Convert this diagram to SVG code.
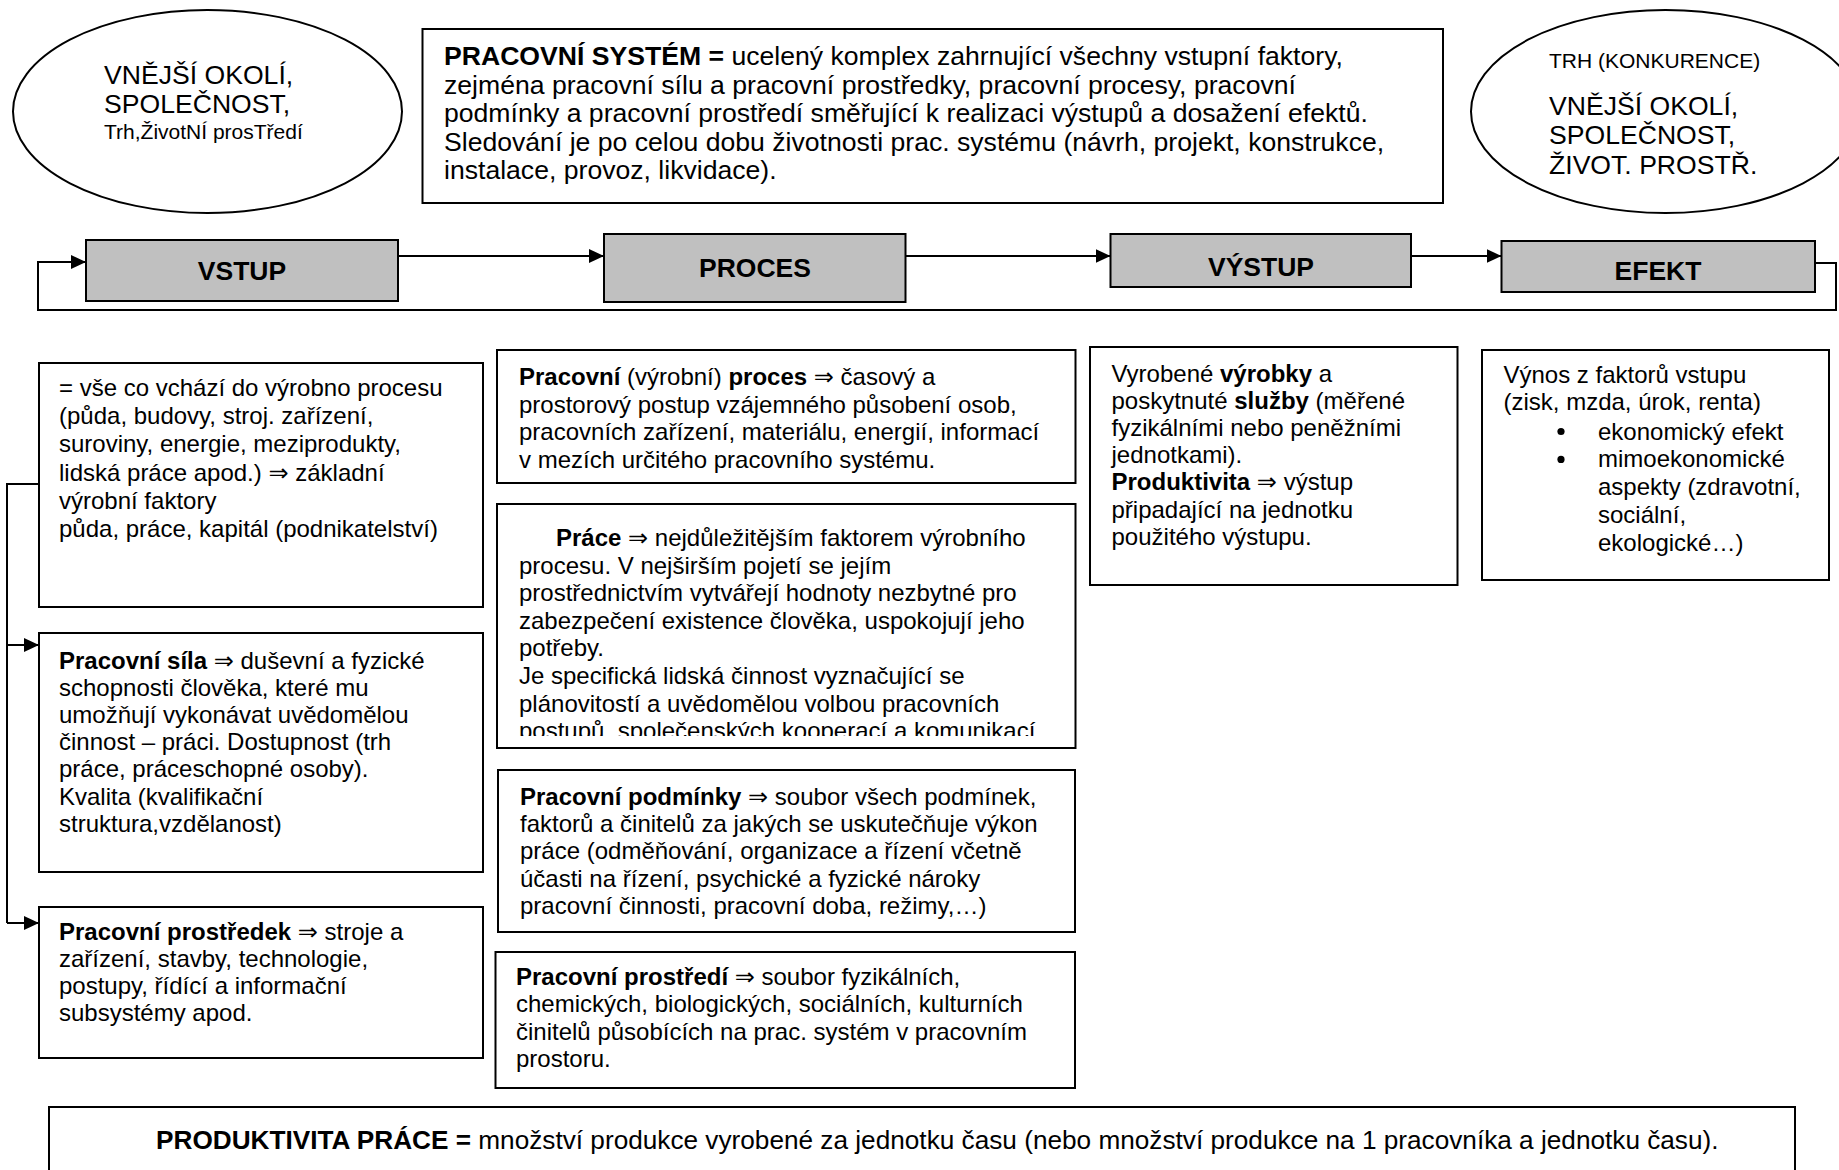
<svg xmlns="http://www.w3.org/2000/svg" width="1839" height="1170" viewBox="0 0 1839 1170">
<defs>
<style>
text{font-family:"Liberation Sans",Arial,"DejaVu Sans",sans-serif;fill:#000}
.box{fill:#fff;stroke:#000;stroke-width:2}
.proc{fill:#c0c0c0;stroke:#000;stroke-width:2}
.ell{fill:#fff;stroke:#000;stroke-width:2}
.t24{font-size:24px}
.t26{font-size:26.6px}
.t21{font-size:21px}
.tbot{font-size:26.2px}
.lbl{font-size:26.5px;font-weight:bold;text-anchor:middle}
.b{font-weight:bold}
.line{fill:none;stroke:#000;stroke-width:2}
</style>
<marker id="arr" markerUnits="userSpaceOnUse" markerWidth="16" markerHeight="14" refX="15" refY="7" orient="auto">
<path d="M0,0 L15,7 L0,14 Z" fill="#000"/>
</marker>
<clipPath id="clipPrace"><rect x="497" y="504" width="579" height="232"/></clipPath>
</defs>
<rect width="1839" height="1170" fill="#fff"/>

<g id="connectors">
<line class="line" x1="398" y1="256" x2="604" y2="256" marker-end="url(#arr)"/>
<line class="line" x1="905.5" y1="256" x2="1110.5" y2="256" marker-end="url(#arr)"/>
<line class="line" x1="1411" y1="256" x2="1501.5" y2="256" marker-end="url(#arr)"/>
<polyline class="line" points="1815,263 1836,263 1836,310 38,310 38,262 86,262" marker-end="url(#arr)"/>
<polyline class="line" points="39,484 7,484 7,923"/>
<line class="line" x1="7" y1="645" x2="39" y2="645" marker-end="url(#arr)"/>
<line class="line" x1="7" y1="923" x2="39" y2="923" marker-end="url(#arr)"/>
</g>

<g id="okoli-left">
<ellipse class="ell" cx="207.5" cy="111.5" rx="194.5" ry="101.5"/>
<text class="t26" x="104" y="84">VNĚJŠÍ OKOLÍ,</text>
<text class="t26" x="104" y="113">SPOLEČNOST,</text>
<text class="t21" x="104" y="139">Trh,ŽivotNÍ prosTředí</text>
</g>

<g id="okoli-right">
<ellipse class="ell" cx="1665.5" cy="111.5" rx="194.5" ry="101.5"/>
<text class="t21" x="1549" y="68">TRH (KONKURENCE)</text>
<text class="t26" x="1549" y="115">VNĚJŠÍ OKOLÍ,</text>
<text class="t26" x="1549" y="144">SPOLEČNOST,</text>
<text class="t26" x="1549" y="174">ŽIVOT. PROSTŘ.</text>
</g>

<g id="pracovni-system">
<rect class="box" x="422.5" y="29" width="1020.5" height="174"/>
<text class="t26" x="444" y="65"><tspan class="b">PRACOVNÍ SYSTÉM =</tspan> ucelený komplex zahrnující všechny vstupní faktory,</text>
<text class="t26" x="444" y="93.5">zejména pracovní sílu a pracovní prostředky, pracovní procesy, pracovní</text>
<text class="t26" x="444" y="122">podmínky a pracovní prostředí směřující k realizaci výstupů a dosažení efektů.</text>
<text class="t26" x="444" y="150.5">Sledování je po celou dobu životnosti prac. systému (návrh, projekt, konstrukce,</text>
<text class="t26" x="444" y="179">instalace, provoz, likvidace).</text>
</g>

<g id="vstup">
<rect class="proc" x="86" y="240" width="312" height="61"/>
<text class="lbl" x="242" y="280">VSTUP</text>
</g>
<g id="proces">
<rect class="proc" x="604" y="234" width="301.5" height="68"/>
<text class="lbl" x="755" y="277">PROCES</text>
</g>
<g id="vystup">
<rect class="proc" x="1110.5" y="234" width="300.5" height="53"/>
<text class="lbl" x="1261" y="276">VÝSTUP</text>
</g>
<g id="efekt">
<rect class="proc" x="1501.5" y="241" width="313.5" height="51"/>
<text class="lbl" x="1658" y="280">EFEKT</text>
</g>

<g id="vstup-popis">
<rect class="box" x="39" y="363" width="444" height="244"/>
<text class="t24" x="59" y="396">= vše co vchází do výrobno procesu</text>
<text class="t24" x="59" y="424.2">(půda, budovy, stroj. zařízení,</text>
<text class="t24" x="59" y="452.4">suroviny, energie, meziprodukty,</text>
<text class="t24" x="59" y="480.6">lidská práce apod.) ⇒ základní</text>
<text class="t24" x="59" y="508.8">výrobní faktory</text>
<text class="t24" x="59" y="537">půda, práce, kapitál (podnikatelství)</text>
</g>

<g id="pracovni-sila">
<rect class="box" x="39" y="633" width="444" height="239"/>
<text class="t24" x="59" y="669"><tspan class="b">Pracovní síla</tspan> ⇒ duševní a fyzické</text>
<text class="t24" x="59" y="696.1">schopnosti člověka, které mu</text>
<text class="t24" x="59" y="723.2">umožňují vykonávat uvědomělou</text>
<text class="t24" x="59" y="750.3">činnost – práci. Dostupnost (trh</text>
<text class="t24" x="59" y="777.4">práce, práceschopné osoby).</text>
<text class="t24" x="59" y="804.5">Kvalita (kvalifikační</text>
<text class="t24" x="59" y="831.6">struktura,vzdělanost)</text>
</g>

<g id="pracovni-prostredek">
<rect class="box" x="39" y="907" width="444" height="151"/>
<text class="t24" x="59" y="940"><tspan class="b">Pracovní prostředek</tspan> ⇒ stroje a</text>
<text class="t24" x="59" y="967">zařízení, stavby, technologie,</text>
<text class="t24" x="59" y="994">postupy, řídící a informační</text>
<text class="t24" x="59" y="1021">subsystémy apod.</text>
</g>

<g id="pracovni-proces">
<rect class="box" x="497" y="350" width="578.5" height="133"/>
<text class="t24" x="519" y="385"><tspan class="b">Pracovní</tspan> (výrobní) <tspan class="b">proces</tspan> ⇒ časový a</text>
<text class="t24" x="519" y="412.7">prostorový postup vzájemného působení osob,</text>
<text class="t24" x="519" y="440.4">pracovních zařízení, materiálu, energií, informací</text>
<text class="t24" x="519" y="468.1">v mezích určitého pracovního systému.</text>
</g>

<g id="prace">
<rect class="box" x="497" y="504" width="578.5" height="244"/>
<g clip-path="url(#clipPrace)">
<text class="t24" x="556" y="546"><tspan class="b">Práce</tspan> ⇒ nejdůležitějším faktorem výrobního</text>
<text class="t24" x="519" y="573.6">procesu. V nejširším pojetí se jejím</text>
<text class="t24" x="519" y="601.2">prostřednictvím vytvářejí hodnoty nezbytné pro</text>
<text class="t24" x="519" y="628.8">zabezpečení existence člověka, uspokojují jeho</text>
<text class="t24" x="519" y="656.4">potřeby.</text>
<text class="t24" x="519" y="684">Je specifická lidská činnost vyznačující se</text>
<text class="t24" x="519" y="711.6">plánovitostí a uvědomělou volbou pracovních</text>
<text class="t24" x="519" y="739.2">postupů, společenských kooperací a komunikací.</text>
</g>
</g>

<g id="pracovni-podminky">
<rect class="box" x="498" y="770" width="577" height="162"/>
<text class="t24" x="520" y="805"><tspan class="b">Pracovní podmínky</tspan> ⇒ soubor všech podmínek,</text>
<text class="t24" x="520" y="832.2">faktorů a činitelů za jakých se uskutečňuje výkon</text>
<text class="t24" x="520" y="859.4">práce (odměňování, organizace a řízení včetně</text>
<text class="t24" x="520" y="886.6">účasti na řízení, psychické a fyzické nároky</text>
<text class="t24" x="520" y="913.8">pracovní činnosti, pracovní doba, režimy,…)</text>
</g>

<g id="pracovni-prostredi">
<rect class="box" x="495.5" y="952" width="579.5" height="136"/>
<text class="t24" x="516" y="985"><tspan class="b">Pracovní prostředí</tspan> ⇒ soubor fyzikálních,</text>
<text class="t24" x="516" y="1012.3">chemických, biologických, sociálních, kulturních</text>
<text class="t24" x="516" y="1039.6">činitelů působících na prac. systém v pracovním</text>
<text class="t24" x="516" y="1066.9">prostoru.</text>
</g>

<g id="vystup-popis">
<rect class="box" x="1090" y="347" width="367.5" height="238"/>
<text class="t24" x="1111.5" y="382">Vyrobené <tspan class="b">výrobky</tspan> a</text>
<text class="t24" x="1111.5" y="409.1">poskytnuté <tspan class="b">služby</tspan> (měřené</text>
<text class="t24" x="1111.5" y="436.2">fyzikálními nebo peněžními</text>
<text class="t24" x="1111.5" y="463.3">jednotkami).</text>
<text class="t24" x="1111.5" y="490.4"><tspan class="b">Produktivita</tspan> ⇒ výstup</text>
<text class="t24" x="1111.5" y="517.5">připadající na jednotku</text>
<text class="t24" x="1111.5" y="544.6">použitého výstupu.</text>
</g>

<g id="efekt-popis">
<rect class="box" x="1482" y="350" width="347" height="230"/>
<text class="t24" x="1503.5" y="383">Výnos z faktorů vstupu</text>
<text class="t24" x="1503.5" y="410">(zisk, mzda, úrok, renta)</text>
<circle cx="1561" cy="431.5" r="3.6" fill="#000"/>
<text class="t24" x="1598" y="439.5">ekonomický efekt</text>
<circle cx="1561" cy="459.4" r="3.6" fill="#000"/>
<text class="t24" x="1598" y="467.4">mimoekonomické</text>
<text class="t24" x="1598" y="495.3">aspekty (zdravotní,</text>
<text class="t24" x="1598" y="523.2">sociální,</text>
<text class="t24" x="1598" y="551">ekologické…)</text>
</g>

<g id="produktivita-prace">
<rect class="box" x="49" y="1107" width="1746" height="80"/>
<text class="tbot" x="156" y="1149"><tspan class="b">PRODUKTIVITA PRÁCE =</tspan> množství produkce vyrobené za jednotku času (nebo množství produkce na 1 pracovníka a jednotku času).</text>
</g>
</svg>
